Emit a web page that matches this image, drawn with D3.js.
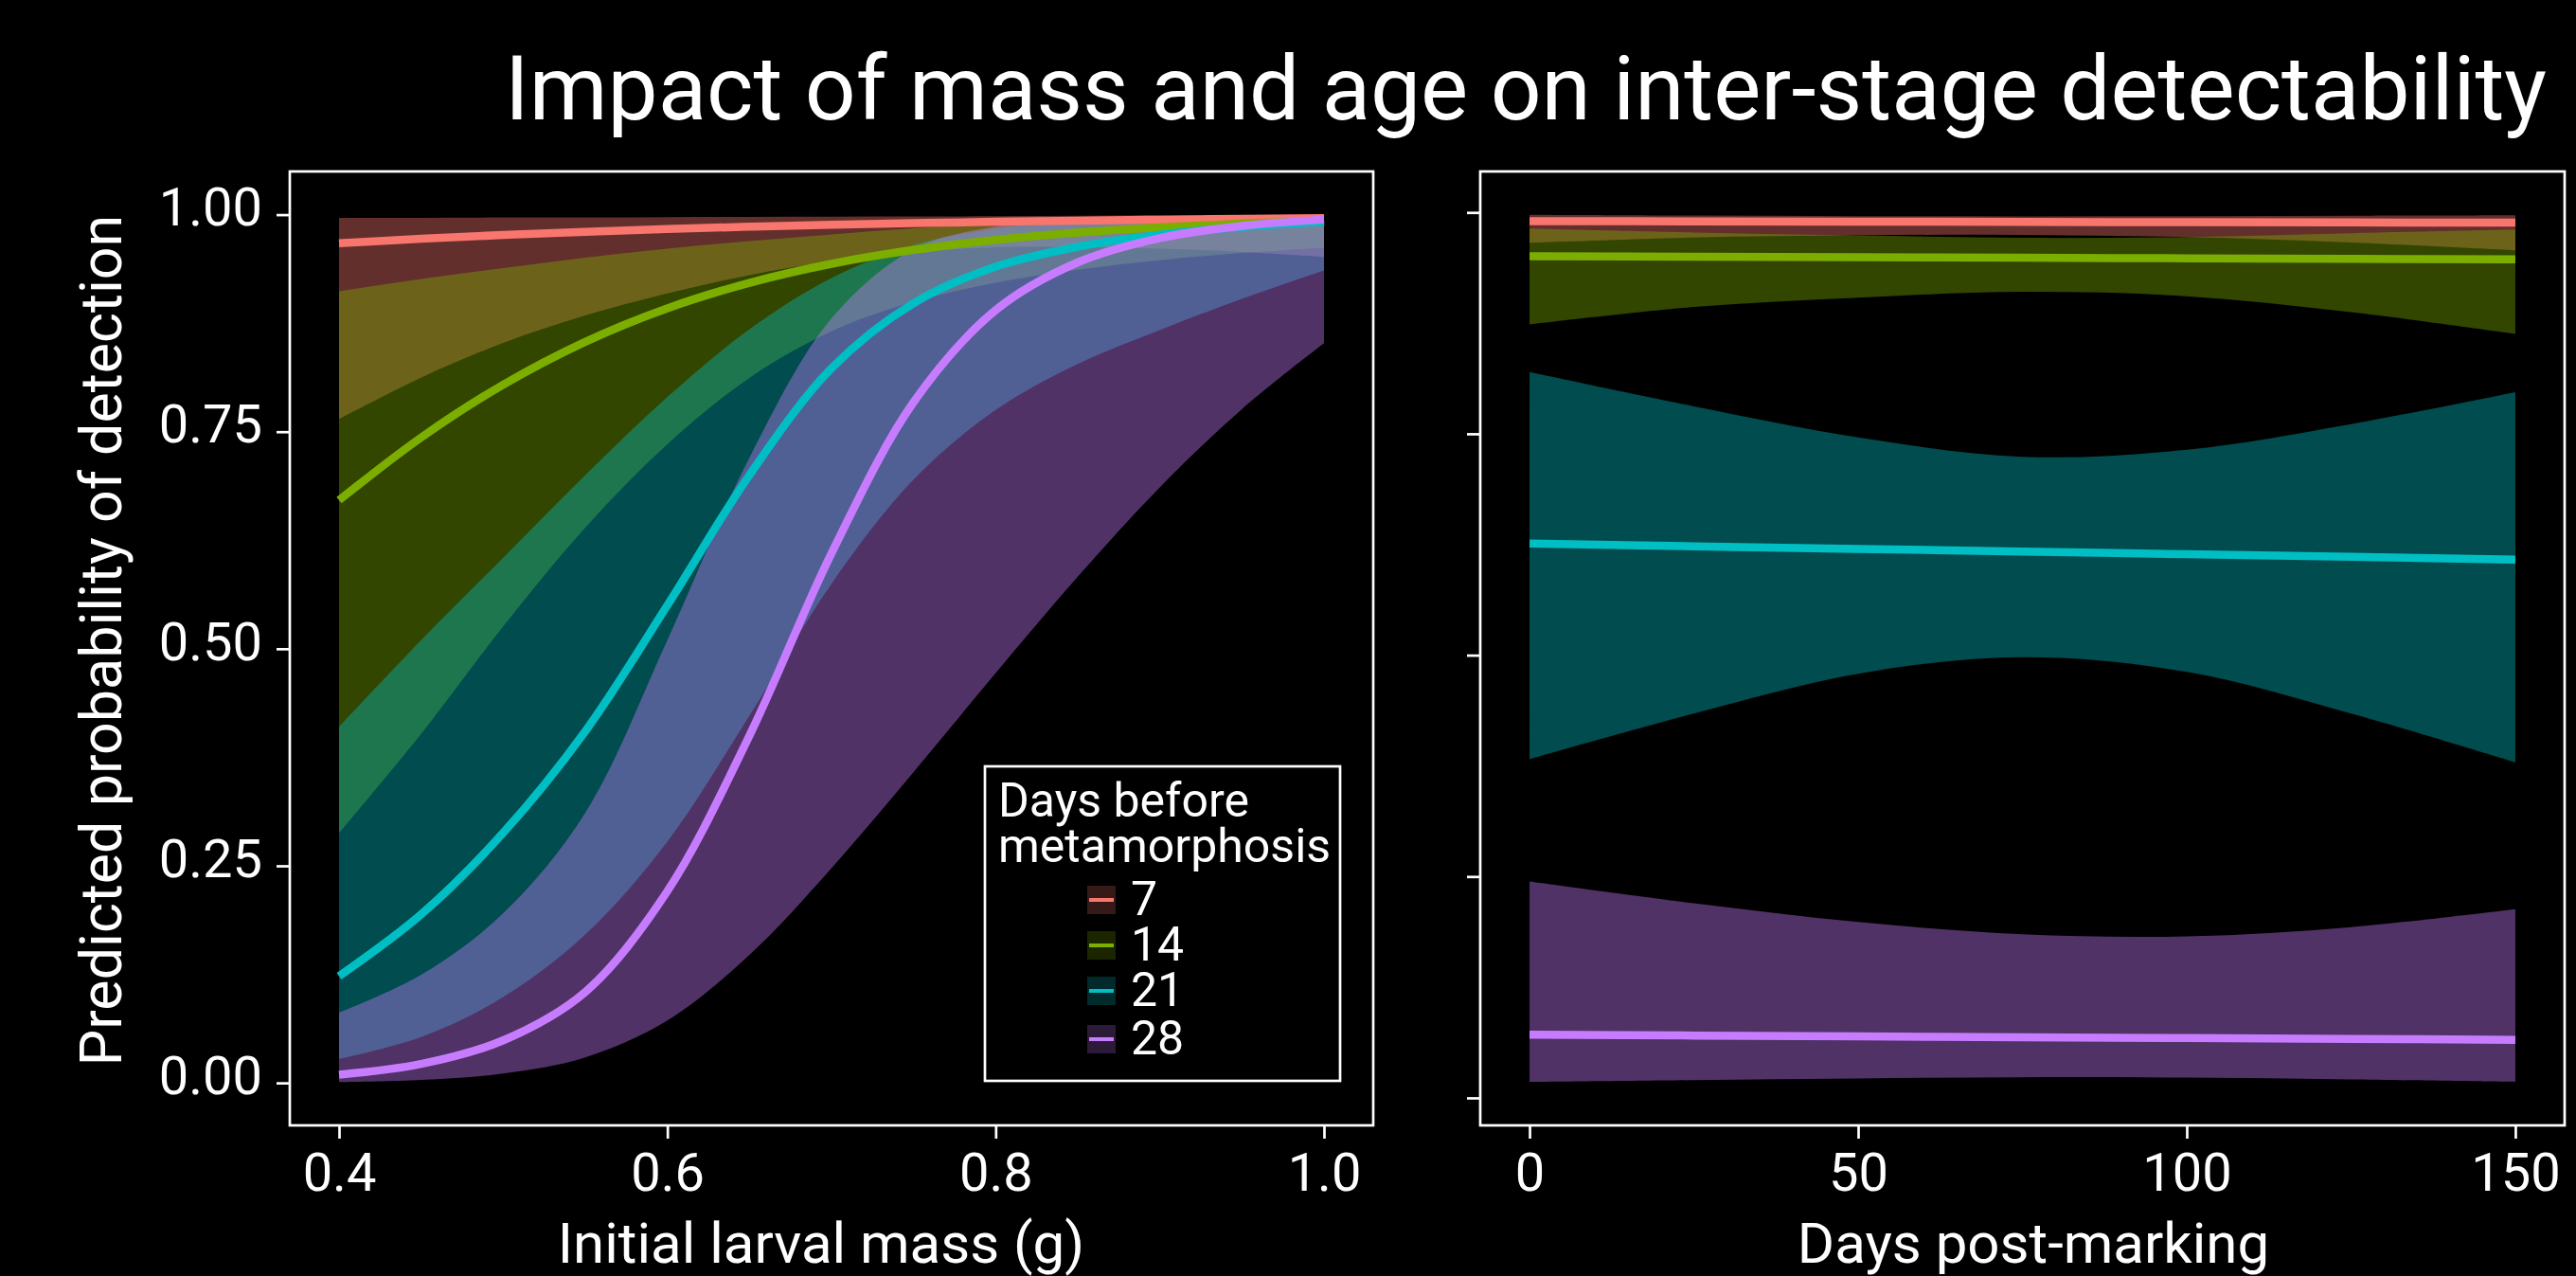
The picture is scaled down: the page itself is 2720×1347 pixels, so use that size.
<!DOCTYPE html>
<html>
<head>
<meta charset="utf-8">
<script src="https://cdn.jsdelivr.net/npm/d3@7"></script>
<style>
  html, body { margin: 0; padding: 0; background: #000; }
  svg { display: block; }
  text { font-family: Roboto, "Noto Sans", sans-serif; fill: #fff; }
</style>
</head>
<body>
<svg id="chart" width="2720" height="1347"></svg>
<script>
// ---------------- DATA ----------------
const groups = ["7", "14", "21", "28"];
const groupColors = ["#F8766D", "#7CAE00", "#00BFC4", "#C77CFF"];

// Left panel: initial larval mass (g)
const massValues = [0.40, 0.45, 0.50, 0.55, 0.60, 0.65, 0.70, 0.75, 0.80, 0.85, 0.90, 0.95, 1.00];

const mass7Fit  = [0.9670, 0.9722, 0.9766, 0.9803, 0.9835, 0.9861, 0.9883, 0.9902, 0.9918, 0.9931, 0.9942, 0.9952, 0.9959];
const mass7Low  = [0.7646, 0.8123, 0.8522, 0.8838, 0.9093, 0.9304, 0.9463, 0.9568, 0.9625, 0.9627, 0.9607, 0.9571, 0.9513];
const mass7High = [0.9962, 0.9964, 0.9967, 0.9969, 0.9972, 0.9974, 0.9976, 0.9978, 0.9982, 0.9987, 0.9992, 0.9995, 0.9997];

const mass14Fit  = [0.6711, 0.7433, 0.8042, 0.8536, 0.8922, 0.9215, 0.9434, 0.9594, 0.9710, 0.9794, 0.9854, 0.9897, 0.9927];
const mass14Low  = [0.2876, 0.4020, 0.5257, 0.6395, 0.7356, 0.8120, 0.8656, 0.8996, 0.9215, 0.9366, 0.9475, 0.9558, 0.9620];
const mass14High = [0.9116, 0.9258, 0.9384, 0.9504, 0.9609, 0.9696, 0.9773, 0.9842, 0.9897, 0.9935, 0.9961, 0.9977, 0.9986];

const mass21Fit  = [0.123, 0.194, 0.288, 0.405, 0.550, 0.700, 0.823, 0.898, 0.940, 0.963, 0.977, 0.986, 0.992];
const mass21Low  = [0.0276, 0.0529, 0.0989, 0.1709, 0.2779, 0.4229, 0.5750, 0.6950, 0.7750, 0.8280, 0.8670, 0.9030, 0.9358];
const mass21High = [0.4102, 0.5100, 0.6050, 0.7000, 0.7900, 0.8680, 0.9270, 0.9650, 0.9840, 0.9926, 0.9962, 0.9980, 0.9991];

const mass28Fit  = [0.0095, 0.0218, 0.0490, 0.1047, 0.2208, 0.4000, 0.6100, 0.7840, 0.8900, 0.9450, 0.9730, 0.9870, 0.9945];
const mass28Low  = [0.0010, 0.0035, 0.0108, 0.0294, 0.0718, 0.1474, 0.2474, 0.3580, 0.4720, 0.5830, 0.6860, 0.7760, 0.8520];
const mass28High = [0.0809, 0.1245, 0.1954, 0.3111, 0.5100, 0.7201, 0.8805, 0.9604, 0.9865, 0.9953, 0.9983, 0.9994, 0.9998];

// Right panel: days post-marking
const dayValues = [0, 25, 50, 75, 100, 125, 150];

const days7Fit  = [0.9902, 0.9899, 0.9896, 0.9893, 0.9890, 0.9887, 0.9884];
const days7Low  = [0.9657, 0.9717, 0.9743, 0.9746, 0.9721, 0.9661, 0.9571];
const days7High = [0.9973, 0.9964, 0.9958, 0.9955, 0.9957, 0.9963, 0.9969];

const days14Fit  = [0.9506, 0.9500, 0.9494, 0.9488, 0.9482, 0.9476, 0.9470];
const days14Low  = [0.8735, 0.8932, 0.9038, 0.9103, 0.9054, 0.8874, 0.8629];
const days14High = [0.9817, 0.9773, 0.9740, 0.9713, 0.9723, 0.9765, 0.9807];

const days21Fit  = [0.626, 0.623, 0.620, 0.617, 0.614, 0.611, 0.608];
const days21Low  = [0.3825, 0.434, 0.479, 0.4977, 0.481, 0.434, 0.3788];
const days21High = [0.8196, 0.781, 0.746, 0.724, 0.732, 0.761, 0.797];

const days28Fit  = [0.0714, 0.0704, 0.0694, 0.0685, 0.0675, 0.0666, 0.0656];
const days28Low  = [0.0179, 0.0200, 0.0219, 0.0233, 0.0229, 0.0208, 0.0179];
const days28High = [0.2444, 0.2198, 0.1986, 0.1847, 0.1823, 0.1929, 0.2132];

const probTicks = [0, 0.25, 0.5, 0.75, 1];
const massTicks = [0.4, 0.6, 0.8, 1.0];
const dayTicks = [0, 50, 100, 150];

const titleText = "Impact of mass and age on inter-stage detectability";
const yTitle = "Predicted probability of detection";
const xTitleLeft = "Initial larval mass (g)";
const xTitleRight = "Days post-marking";
const legendTitle = ["Days before", "metamorphosis"];

// ---------------- BUILD ----------------
function buildSeries(xs, fits, lows, highs) {
  return groups.map((g, gi) => ({
    group: g,
    color: groupColors[gi],
    pts: xs.map((x, i) => ({ x, fit: fits[gi][i], lo: lows[gi][i], hi: highs[gi][i] }))
  }));
}
const leftSeries = buildSeries(massValues,
  [mass7Fit, mass14Fit, mass21Fit, mass28Fit],
  [mass7Low, mass14Low, mass21Low, mass28Low],
  [mass7High, mass14High, mass21High, mass28High]);
const rightSeries = buildSeries(dayValues,
  [days7Fit, days14Fit, days21Fit, days28Fit],
  [days7Low, days14Low, days21Low, days28Low],
  [days7High, days14High, days21High, days28High]);

const svg = d3.select("#chart");
svg.append("rect").attr("width", 2720).attr("height", 1347).attr("fill", "#000");

const FRAME_W = 2.7, TICK = 14, LINE_W = 8.5, RIBBON_ALPHA = 0.4;
const panelTop = 181, panelBottom = 1188;

function expand(ext, f = 0.05) {
  const d = ext[1] - ext[0];
  return [ext[0] - d * f, ext[1] + d * f];
}

function drawPanel(series, opts) {
  const g = svg.append("g");
  const x = d3.scaleLinear().domain(expand(opts.xExtent)).range([opts.left, opts.right]);
  const allY = series.flatMap(s => s.pts.flatMap(p => [p.lo, p.hi, p.fit]));
  const y = d3.scaleLinear().domain(expand(d3.extent(allY))).range([panelBottom, panelTop]);

  const area = d3.area().x(d => x(d.x)).y0(d => y(d.lo)).y1(d => y(d.hi))
    .curve(d3.curveCatmullRom.alpha(0.5));
  const line = d3.line().x(d => x(d.x)).y(d => y(d.fit))
    .curve(d3.curveCatmullRom.alpha(0.5));

  series.forEach(s => {
    g.append("path").attr("d", area(s.pts))
      .attr("fill", s.color).attr("fill-opacity", RIBBON_ALPHA);
  });
  series.forEach(s => {
    g.append("path").attr("d", line(s.pts))
      .attr("fill", "none").attr("stroke", s.color).attr("stroke-width", LINE_W);
  });

  // frame
  g.append("rect")
    .attr("x", opts.left).attr("y", panelTop)
    .attr("width", opts.right - opts.left).attr("height", panelBottom - panelTop)
    .attr("fill", "none").attr("stroke", "#fff").attr("stroke-width", FRAME_W);

  // y axis
  const yAxis = d3.axisLeft(y).tickValues(probTicks).tickSize(TICK).tickPadding(15)
    .tickFormat(opts.showYLabels ? d3.format(".2f") : () => "");
  const ya = g.append("g").attr("transform", `translate(${opts.left},0)`).call(yAxis);
  ya.select(".domain").remove();
  ya.selectAll(".tick line").attr("stroke", "#fff").attr("stroke-width", FRAME_W);
  ya.selectAll(".tick text").attr("fill", "#fff").attr("font-size", 56)
    .attr("font-family", "Roboto").attr("dy", "0.2em");
  if (!opts.showYLabels) ya.selectAll(".tick text").remove();

  // x axis
  const xAxis = d3.axisBottom(x).tickValues(opts.xTicks).tickSize(TICK).tickPadding(15)
    .tickFormat(opts.xFormat);
  const xa = g.append("g").attr("transform", `translate(0,${panelBottom})`).call(xAxis);
  xa.select(".domain").remove();
  xa.selectAll(".tick line").attr("stroke", "#fff").attr("stroke-width", FRAME_W);
  xa.selectAll(".tick text").attr("fill", "#fff").attr("font-size", 56)
    .attr("font-family", "Roboto");

  // x title
  g.append("text").attr("x", opts.xTitleX).attr("y", 1333)
    .attr("text-anchor", "middle").attr("font-size", 60).text(opts.xTitle);
  return { x, y };
}

drawPanel(leftSeries, {
  left: 306, right: 1450, xExtent: [0.4, 1.0], xTicks: massTicks,
  xFormat: d3.format(".1f"), showYLabels: true, xTitle: xTitleLeft, xTitleX: 867
});
drawPanel(rightSeries, {
  left: 1563, right: 2708, xExtent: [0, 150], xTicks: dayTicks,
  xFormat: d3.format("d"), showYLabels: false, xTitle: xTitleRight, xTitleX: 2147
});

// y title
svg.append("text")
  .attr("transform", "translate(128,676) rotate(-90)")
  .attr("text-anchor", "middle").attr("font-size", 61).text(yTitle);

// main title
svg.append("text").attr("x", 533).attr("y", 126)
  .attr("font-size", 94.5).text(titleText);

// legend
const lg = svg.append("g");
lg.append("rect").attr("x", 1040).attr("y", 809).attr("width", 375).attr("height", 332)
  .attr("fill", "#000").attr("stroke", "#fff").attr("stroke-width", FRAME_W);
legendTitle.forEach((t, i) => {
  lg.append("text").attr("x", 1054).attr("y", 862 + i * 48).attr("font-size", 50).text(t);
});
const keyTops = [935, 983, 1031, 1082];
groups.forEach((gname, i) => {
  const ky = keyTops[i];
  lg.append("rect").attr("x", 1148).attr("y", ky).attr("width", 30).attr("height", 30)
    .attr("fill", groupColors[i]).attr("fill-opacity", 0.22);
  lg.append("line").attr("x1", 1150).attr("x2", 1176).attr("y1", ky + 15).attr("y2", ky + 15)
    .attr("stroke", groupColors[i]).attr("stroke-width", 4);
  lg.append("text").attr("x", 1194).attr("y", ky + 31).attr("font-size", 50).text(gname);
});
</script>
</body>
</html>
